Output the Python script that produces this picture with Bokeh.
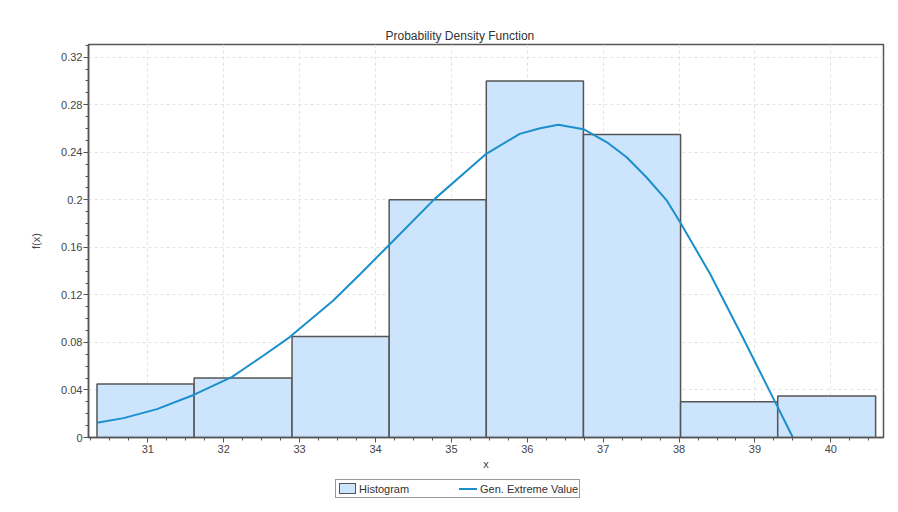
from bokeh.plotting import figure
from bokeh.models import (FixedTicker, CustomJSTickFormatter, Range1d, ColumnDataSource, Div)
from bokeh.layouts import column
from bokeh.embed import file_html
from bokeh.resources import INLINE

# ---- data ----
bin_edges = [30.33, 31.61, 32.90, 34.18, 35.46, 36.74, 38.02, 39.30, 40.59]
hist_density = [0.045, 0.05, 0.085, 0.2, 0.3, 0.255, 0.03, 0.035]

curve_x = [30.33, 30.68, 31.12, 31.61, 32.11, 32.52, 32.87, 33.44, 33.80, 34.17,
           34.78, 35.46, 35.90, 36.17, 36.41, 36.74, 37.05, 37.31, 37.57, 37.84,
           38.01, 38.41, 38.84, 39.28, 39.50]
curve_y = [0.0124, 0.0163, 0.0239, 0.036, 0.051, 0.0688, 0.0845, 0.115, 0.1376, 0.1614,
           0.2008, 0.2387, 0.2555, 0.2602, 0.2632, 0.2594, 0.2484, 0.2358, 0.219, 0.1993,
           0.1816, 0.1376, 0.0842, 0.0281, 0.0]

x_ticks = [31, 32, 33, 34, 35, 36, 37, 38, 39, 40]
y_ticks = [0, 0.04, 0.08, 0.12, 0.16, 0.2, 0.24, 0.28, 0.32]

title_text = "Probability Density Function"
x_label = "x"
y_label = "f(x)"
legend_labels = ["Histogram", "Gen. Extreme Value"]

FONT = "Liberation Sans"
BAR_FILL = "#cce4fc"
EDGE = "#555555"
LINE_COLOR = "#1a8fcc"

p = figure(
    output_backend="svg", toolbar_location=None,
    width=891, height=480, frame_width=795, frame_height=393,
    min_border_left=88, min_border_right=8, min_border_top=44, min_border_bottom=0,
    x_range=Range1d(30.218, 40.694), y_range=Range1d(0, 0.3307),
    title=title_text,
)
p.background_fill_color = "white"
p.border_fill_color = "white"
p.outline_line_color = EDGE
p.outline_line_width = 1.5

p.title.text_font = FONT
p.title.text_font_size = "12px"
p.title.text_font_style = "normal"
p.title.text_color = "#333333"
p.title.align = "left"
p.title.offset = 297
p.title.standoff = 4

hist_src = ColumnDataSource(dict(left=bin_edges[:-1], right=bin_edges[1:],
                                 top=hist_density, bottom=[0] * len(hist_density)))
bars = p.quad(left="left", right="right", top="top", bottom="bottom", source=hist_src,
              fill_color=BAR_FILL, line_color=EDGE, line_width=1.5)
line = p.line(curve_x, curve_y, line_color=LINE_COLOR, line_width=2)

# axes
x_minor = [31 + i * 0.25 for i in range(-3, 40) if 30.2 <= 31 + i * 0.25 <= 40.7]
y_minor = [i * 0.01 for i in range(0, 34)]
p.xaxis.ticker = FixedTicker(ticks=x_ticks, minor_ticks=x_minor)
p.yaxis.ticker = FixedTicker(ticks=y_ticks, minor_ticks=y_minor)
p.yaxis.formatter = CustomJSTickFormatter(
    code="return tick.toFixed(2).replace(/0+$/, '').replace(/\\.$/, '');")

for ax in (p.xaxis[0], p.yaxis[0]):
    ax.axis_line_color = EDGE
    ax.axis_line_width = 1.5
    ax.major_tick_line_color = EDGE
    ax.minor_tick_line_color = EDGE
    ax.major_tick_in = 0
    ax.minor_tick_in = 0
    ax.major_tick_out = 5
    ax.minor_tick_out = 3
    ax.major_label_text_font = FONT
    ax.major_label_text_font_size = "11px"
    ax.major_label_text_color = "#444444"
    ax.axis_label_text_font = FONT
    ax.axis_label_text_font_size = "11px"
    ax.axis_label_text_font_style = "normal"
    ax.axis_label_text_color = "#444444"

p.xaxis.axis_label = x_label
p.yaxis.axis_label = y_label
p.xaxis.major_label_standoff = 2
p.xaxis.axis_label_standoff = 2
p.yaxis.major_label_standoff = 1
p.yaxis.axis_label_standoff = 16

p.xgrid.grid_line_color = "#e2e2e2"
p.ygrid.grid_line_color = "#e2e2e2"
p.xgrid.grid_line_dash = "3 3"
p.ygrid.grid_line_dash = "3 3"

# legend as real HTML text below the chart
legend_html = (
    f'<div style="position:relative;top:7px;margin-left:335px;width:243px;height:17px;'
    f'border:1px solid #999999;background:white;display:flex;align-items:center;'
    f'font-family:\'{FONT}\';font-size:11px;color:#333333;line-height:12px;box-sizing:content-box;">'
    f'<span style="display:inline-block;width:15px;height:9px;margin-left:3px;'
    f'background:{BAR_FILL};border:1.5px solid {EDGE};"></span>'
    f'<span style="display:inline-block;width:100px;margin-left:3px;">{legend_labels[0]}</span>'
    f'<span style="display:inline-block;width:18px;height:2px;background:{LINE_COLOR};"></span>'
    f'<span style="display:inline-block;margin-left:3px;white-space:nowrap;">{legend_labels[1]}</span>'
    f'</div>'
)
legend_div = Div(text=legend_html, width=891, height=30, margin=(0, 0, 0, 0))

layout = column(p, legend_div, spacing=0)

open("out.html", "w").write(file_html(layout, INLINE))
